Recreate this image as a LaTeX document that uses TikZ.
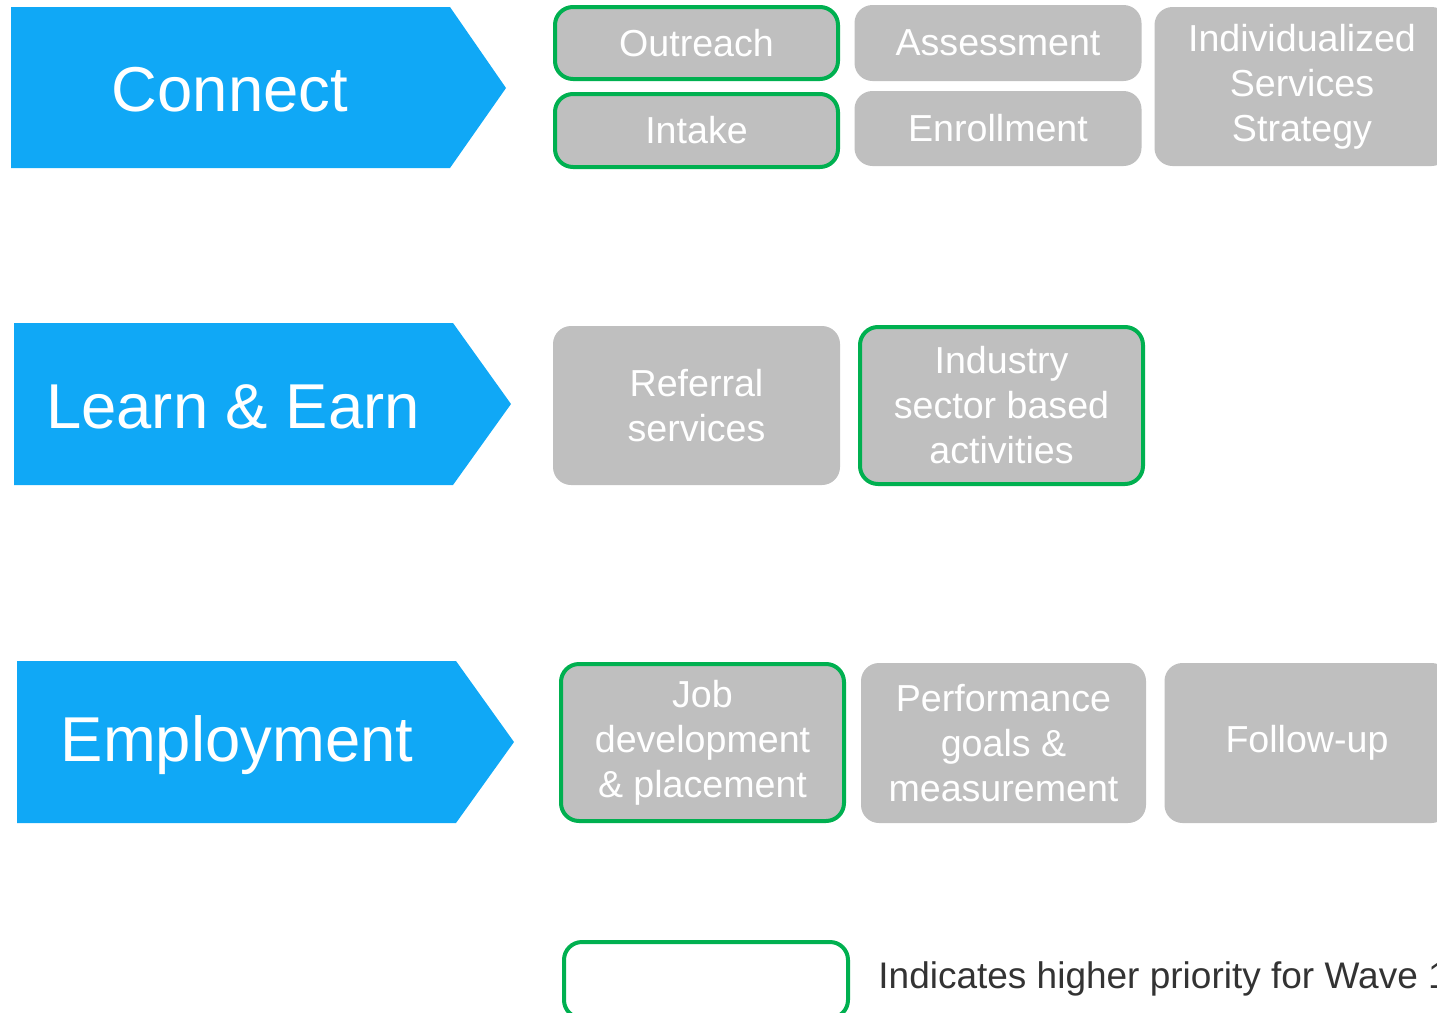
\documentclass[tikz,border=0pt]{standalone}
\usepackage{fontspec}
\setmainfont{Liberation Sans}
\usetikzlibrary{positioning}
\definecolor{stageblue}{HTML}{10A8F6}
\definecolor{boxgray}{HTML}{BFBFBF}
\definecolor{wavegreen}{HTML}{00B050}
\definecolor{legendtext}{HTML}{333333}
\begin{document}
\begin{tikzpicture}[x=0.5pt,y=-0.5pt]
        \tikzstyle{stage} = [fill=stageblue, draw=none]
        \tikzstyle{stagetext} = [text=white, inner sep=0pt, font=\fontsize{31.7}{38}\selectfont]
        \tikzstyle{activity} = [rectangle, rounded corners=9pt, fill=boxgray, text=white, align=center, inner sep=0pt, minimum width=143.5pt, font=\fontsize{18.8}{22.5}\selectfont]
        \tikzstyle{priority} = [draw=wavegreen, line width=2pt, minimum width=141.5pt]

        \useasboundingbox (0,0) rectangle (1437,1013);
        \clip (0,0) rectangle (1437,1013);

        % stages
        \fill [stage] (11,7) -- (450,7) -- (506,88) -- (450,168) -- (11,168) -- cycle;
        \fill [stage] (14,323) -- (453,323) -- (511,404) -- (453,485) -- (14,485) -- cycle;
        \fill [stage] (17,661) -- (456,661) -- (514,742) -- (456,823) -- (17,823) -- cycle;
        \node (connect) [stagetext] at (230,90) {Connect};
        \node (learn) [stagetext] at (233,407) {Learn \& Earn};
        \node (employ) [stagetext] at (237,745) {Employment};

        % connect activities
        \node (outreach) [activity, priority, minimum height=36pt] at (696.5,43) {Outreach};
        \node (intake) [activity, priority, minimum height=36.5pt] at (696.5,130.5) {Intake};
        \node (assess) [activity, minimum height=38pt] at (998,43) {Assessment};
        \node (enroll) [activity, minimum height=37.5pt] at (998,128.5) {Enrollment};
        \node (iss) [activity, minimum width=147.5pt, minimum height=79.5pt] at (1302,86.5) {Individualized\\Services\\Strategy};

        % learn & earn activities
        \node (referral) [activity, minimum height=79.5pt] at (696.5,405.5) {Referral\\services};
        \node (industry) [activity, priority, minimum height=78.5pt] at (1001.5,405.5) {Industry\\sector based\\activities};

        % employment activities
        \node (jobdev) [activity, priority, minimum height=78.5pt] at (702.5,742.5) {Job\\development\\\& placement};
        \node (perform) [activity, minimum width=142.5pt, minimum height=80pt] at (1003.5,743) {Performance\\goals \&\\measurement};
        \node (follow) [activity, minimum width=142.5pt, minimum height=80pt] at (1307,743) {Follow-up};

        % legend
        \node (legend) [rectangle, rounded corners=9pt, priority, minimum width=142pt, minimum height=38pt] at (706,980) {};
        \node (legendlabel) [anchor=west, text=legendtext, inner sep=0pt, font=\fontsize{18.5}{22}\selectfont] at (878,979) {Indicates higher priority for Wave 1};
\end{tikzpicture}
\end{document}
